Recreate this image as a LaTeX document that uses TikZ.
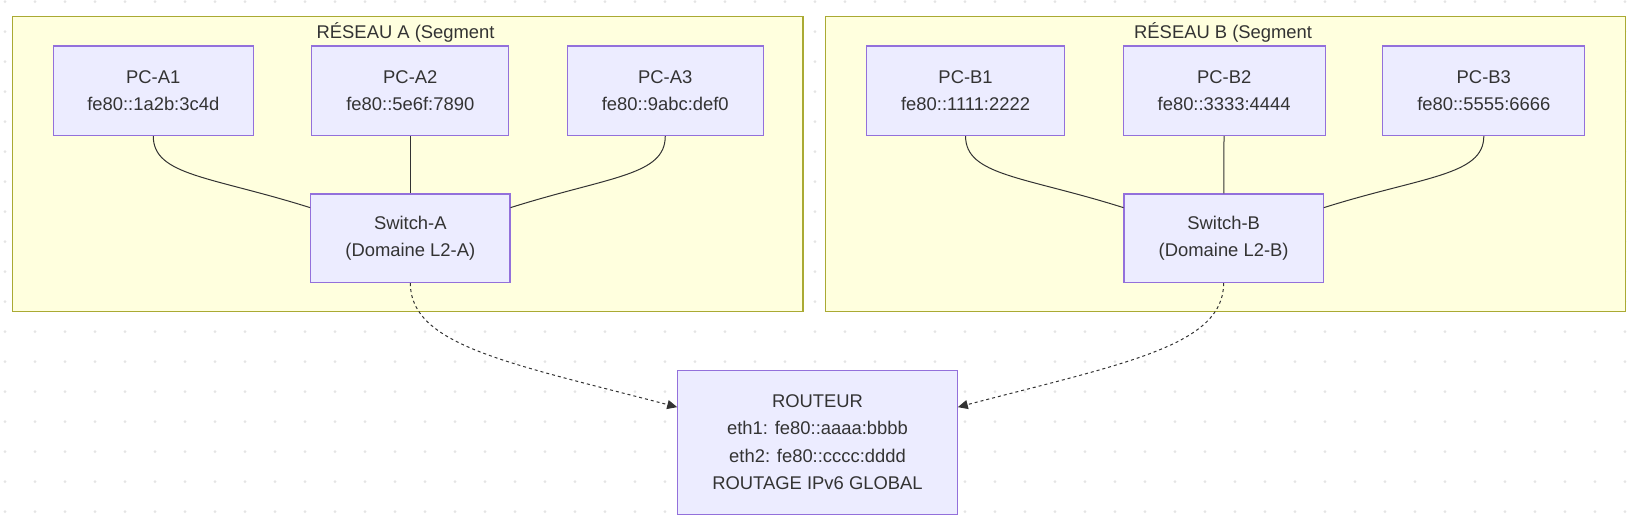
\documentclass[tikz,border=0pt]{standalone}
\usepackage{fontspec}
\setmainfont{Liberation Sans}
\usepackage{xcolor}
\usetikzlibrary{arrows.meta}
\definecolor{nodefill}{HTML}{ECECFF}
\definecolor{nodeline}{HTML}{9370DB}
\definecolor{clfill}{HTML}{FFFFDE}
\definecolor{clline}{HTML}{AAAA33}
\definecolor{txt}{HTML}{333333}
\definecolor{dotc}{HTML}{E4E4E4}
\begin{document}
\begin{tikzpicture}[x=0.5214pt,y=-0.5214pt,
  box/.style={draw=nodeline,fill=nodefill,line width=0.6pt,text=txt,align=center,
    font=\fontsize{9.2}{13.6}\selectfont,minimum width=100pt,minimum height=44.8pt,inner sep=0pt},
  cluster/.style={draw=clline,fill=clfill,line width=0.6pt},
  link/.style={draw=txt,line width=0.5pt},
  route/.style={link,dash pattern=on 1.5pt off 1.5pt,-{Triangle[length=5pt,width=4.5pt]}}]
  \useasboundingbox (0,0) rectangle (1568,508);
  \fill[white] (0,0) rectangle (1568,508);

  \foreach \i in {0,...,54}{
  \foreach \j in {0,...,17}{
   \fill[dotc] (4.8+28.77*\i,1.6+28.77*\j) circle (0.75pt);
}
}

  \draw[cluster] (12,16) rectangle (770,299);
  \draw[cluster] (792,16) rectangle (1559,299);
  \node[text=txt,font=\fontsize{9.2}{11}\selectfont] (titleA) at (389,31) {RÉSEAU A (Segment};
  \node[text=txt,font=\fontsize{9.2}{11}\selectfont] (titleB) at (1173,31) {RÉSEAU B (Segment};

  \node[box] (pca1) at (147,87) {PC-A1\\fe80::1a2b:3c4d};
  \node[box,minimum width=98.5pt] (pca2) at (393.5,87) {PC-A2\\fe80::5e6f:7890};
  \node[box,minimum width=98pt] (pca3) at (638,87) {PC-A3\\fe80::9abc:def0};
  \node[box,minimum width=99.6pt,minimum height=44.3pt] (swa) at (393.5,228.5) {Switch-A\\(Domaine L2-A)};

  \node[box,minimum width=99pt] (pcb1) at (926,87) {PC-B1\\fe80::1111:2222};
  \node[box,minimum width=101pt] (pcb2) at (1174,87) {PC-B2\\fe80::3333:4444};
  \node[box,minimum width=101pt] (pcb3) at (1423,87) {PC-B3\\fe80::5555:6666};
  \node[box,minimum width=99.6pt,minimum height=44.3pt] (swb) at (1173.5,228.5) {Switch-B\\(Domaine L2-B)};

  \node[box,minimum width=139.7pt,minimum height=72pt] (rtr) at (784,424)
    {ROUTEUR\\eth1: fe80::aaaa:bbbb\\eth2: fe80::cccc:dddd\\ROUTAGE IPv6 GLOBAL};

  \draw[link] (pca1.south) .. controls +(0,38) and +(-95,-30) .. (swa.163);
  \draw[link] (pca2) -- (swa);
  \draw[link] (pca3.south) .. controls +(0,38) and +(95,-30) .. (swa.17);
  \draw[link] (pcb1.south) .. controls +(0,38) and +(-95,-30) .. (swb.163);
  \draw[link] (pcb2) -- (swb);
  \draw[link] (pcb3.south) .. controls +(0,38) and +(95,-30) .. (swb.17);

  \draw[route] (swa.south) .. controls +(0,60) and +(-160,-42) .. (rtr.166);
  \draw[route] (swb.south) .. controls +(0,60) and +(160,-42) .. (rtr.14);

\end{tikzpicture}
\end{document}
